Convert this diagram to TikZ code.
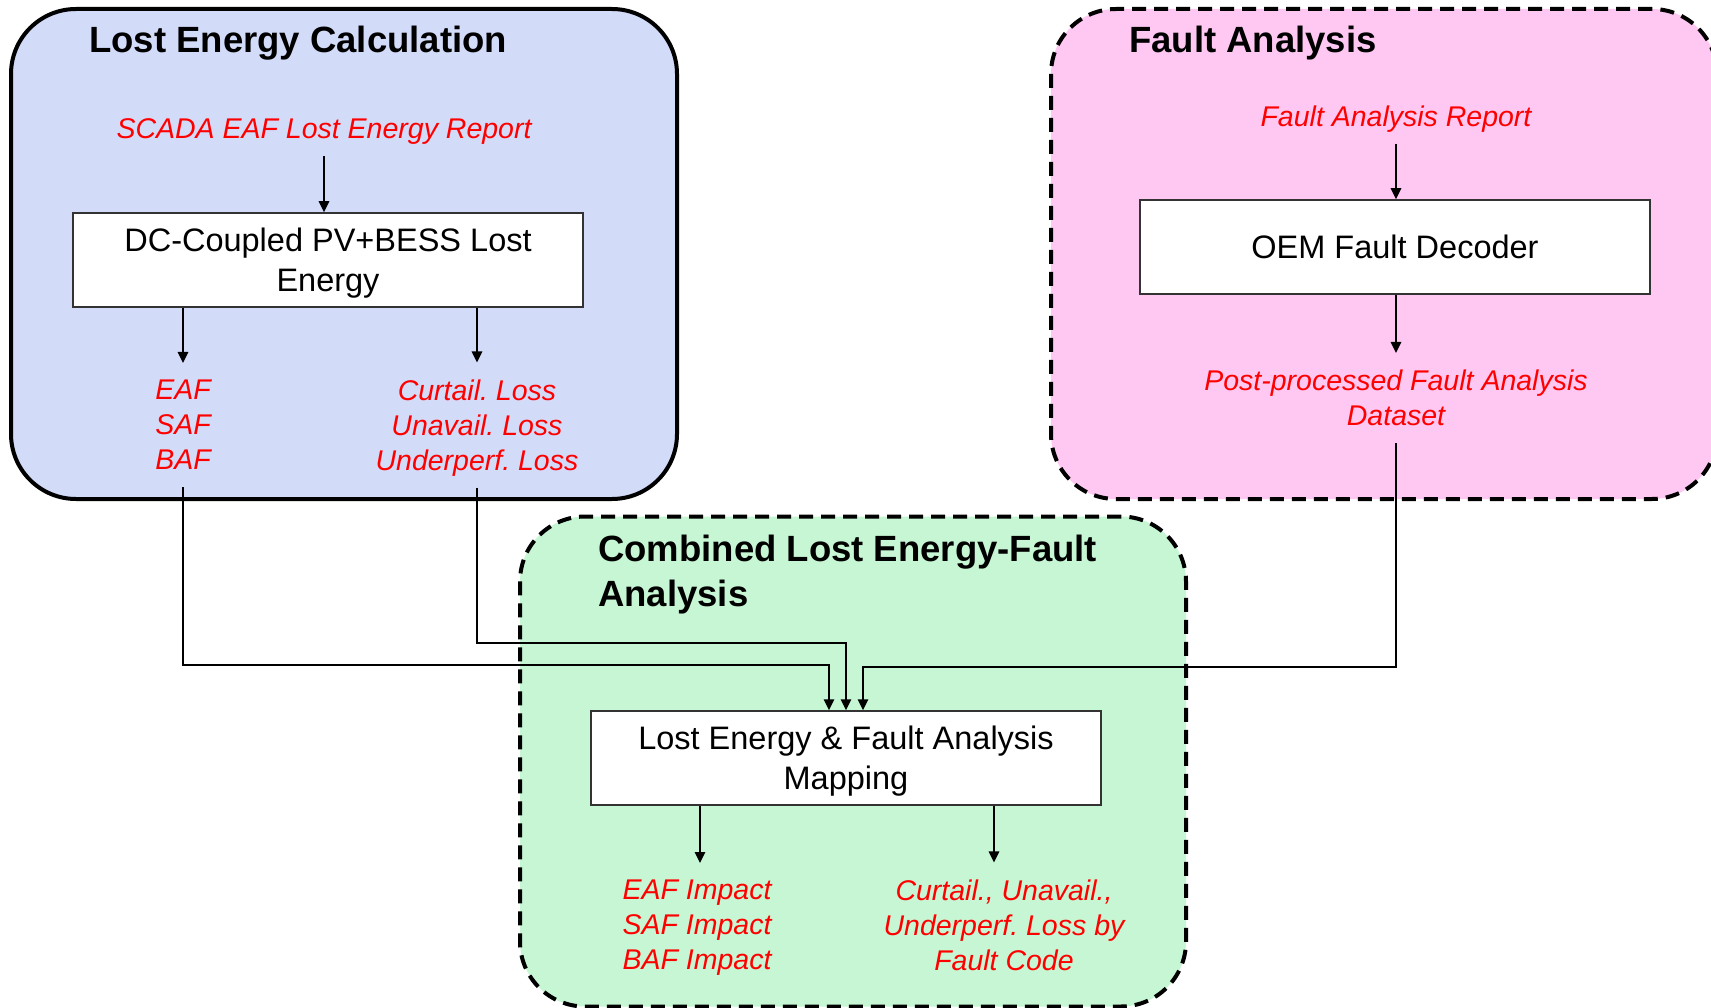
\documentclass[tikz,border=0pt]{standalone}
\usepackage{fontspec}
\setmainfont{Liberation Sans}
\usetikzlibrary{arrows.meta, positioning}
\definecolor{lossblue}{RGB}{210,219,248}
\definecolor{faultpink}{RGB}{254,200,242}
\definecolor{combgreen}{RGB}{198,246,211}
\frenchspacing

\begin{document}
\begin{tikzpicture}[
    x=1pt, y=-1pt,
    group/.style={rectangle, rounded corners=65pt, minimum width=666pt, minimum height=490pt, line width=4pt},
    dashgroup/.style={group, draw=black, dash pattern=on 14pt off 8pt},
    title/.style={anchor=west, inner sep=0pt, align=left, text depth=0pt, font=\fontsize{36.5}{45}\selectfont\bfseries},
    component/.style={rectangle, draw=black!80, line width=1.5pt, fill=white, minimum width=510pt, minimum height=94pt, align=center, text depth=0pt, font=\fontsize{32.5}{40}\selectfont},
    data/.style={align=center, text=red, inner sep=17pt, text depth=0pt, font=\fontsize{28.5}{35}\selectfont\itshape},
    arrow/.style={-{Triangle[length=11pt, width=10.5pt]}, line width=1.5pt}
]
    \useasboundingbox (0,0) rectangle (1711,1008);
    \clip (0,0) rectangle (1711,1008);

    % Group boxes
    \node[group, draw=black, fill=lossblue] (lossgrp) at (344,254) {};
    \node[dashgroup, fill=faultpink] (faultgrp) at (1384,254) {};
    \node[dashgroup, fill=combgreen] (combgrp) at (853,761.5) {};

    % Group titles
    \node[title] (losstitle) at (89,39) {Lost Energy Calculation};
    \node[title] (faulttitle) at (1129,39) {Fault Analysis};
    \node[title] (combtitle) at (598,571) {Combined Lost Energy-Fault\\Analysis};

    % Lost energy calculation
    \node[data] (scada) at (324,129) {SCADA EAF Lost Energy Report};
    \node[component] (dcloss) at (328,260) {DC-Coupled PV+BESS Lost\\Energy};
    \draw[arrow] (scada.south) -- (scada.south |- dcloss.north);

    \node[data] (eafout) at (183,425) {EAF\\SAF\\BAF};
    \node[data] (lossout) at (477,425) {Curtail. Loss\\Unavail. Loss\\Underperf. Loss};
    \draw[arrow] (eafout.north |- dcloss.south) -- (eafout.north);
    \draw[arrow] (lossout.north |- dcloss.south) -- (lossout.north);

    % Fault analysis
    \node[data] (fltrep) at (1396,116) {Fault Analysis Report};
    \node[component] (oemdec) at (1395,247) {OEM Fault Decoder};
    \draw[arrow] (fltrep.south) -- (fltrep.south |- oemdec.north);

    \node[data] (fltdata) at (1396,398) {Post-processed Fault Analysis\\Dataset};
    \draw[arrow] (fltdata.north |- oemdec.south) -- (fltdata.north);

    % Combined mapping
    \node[component] (mapping) at (846,758) {Lost Energy \& Fault Analysis\\Mapping};
    \coordinate (inleft) at ([xshift=-17]mapping.north);
    \coordinate (inright) at ([xshift=17]mapping.north);

    \draw[arrow] (eafout.south) -- (eafout.south |- 0,665) -| (inleft);
    \draw[arrow] (lossout.south) -- (lossout.south |- 0,643) -| (mapping.north);
    \draw[arrow] (fltdata.south) -- (fltdata.south |- 0,667) -| (inright);

    \node[data] (impact) at (697,925) {EAF Impact\\SAF Impact\\BAF Impact};
    \node[data] (losscode) at (1004,925) {Curtail., Unavail.,\\Underperf. Loss by\\Fault Code};
    \draw[arrow] ([xshift=-146]mapping.south) -- ([xshift=-146]mapping.south |- impact.north);
    \draw[arrow] ([xshift=148]mapping.south) -- ([xshift=148]mapping.south |- losscode.north);
\end{tikzpicture}
\end{document}
